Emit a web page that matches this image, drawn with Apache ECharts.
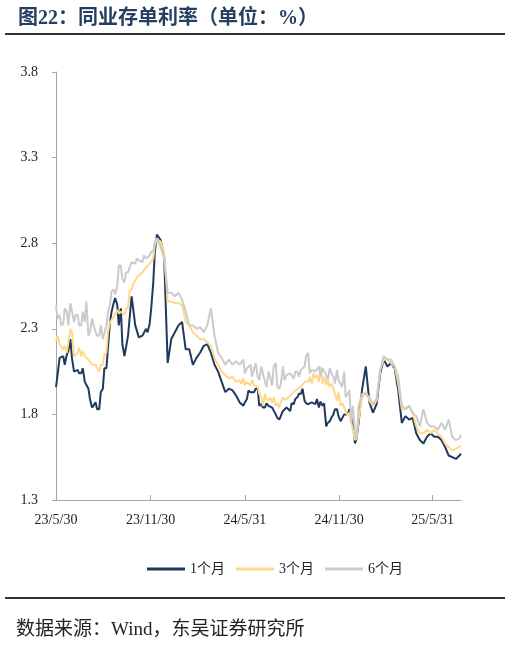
<!DOCTYPE html>
<html><head><meta charset="utf-8">
<script src="https://cdn.jsdelivr.net/npm/echarts@6/dist/echarts.min.js"></script>
<style>html,body{margin:0;padding:0;background:#fff}#c{width:510px;height:646px}</style>
</head><body><div id="c"></div>
<script>
// weekly readings (Tuesdays) plus an end point
const datesWeekly = [
'2023-05-30','2023-06-06','2023-06-13','2023-06-20','2023-06-27','2023-07-04','2023-07-11','2023-07-18','2023-07-25','2023-08-01',
'2023-08-08','2023-08-15','2023-08-22','2023-08-29','2023-09-05','2023-09-12','2023-09-19','2023-09-26','2023-10-03','2023-10-10',
'2023-10-17','2023-10-24','2023-10-31','2023-11-07','2023-11-14','2023-11-21','2023-11-28','2023-12-05','2023-12-12','2023-12-19',
'2023-12-26','2024-01-02','2024-01-09','2024-01-16','2024-01-23','2024-01-30','2024-02-06','2024-02-13','2024-02-20','2024-02-27',
'2024-03-05','2024-03-12','2024-03-19','2024-03-26','2024-04-02','2024-04-09','2024-04-16','2024-04-23','2024-04-30','2024-05-07',
'2024-05-14','2024-05-21','2024-05-28','2024-06-04','2024-06-11','2024-06-18','2024-06-25','2024-07-02','2024-07-09','2024-07-16',
'2024-07-23','2024-07-30','2024-08-06','2024-08-13','2024-08-20','2024-08-27','2024-09-03','2024-09-10','2024-09-17','2024-09-24',
'2024-10-01','2024-10-08','2024-10-15','2024-10-22','2024-10-29','2024-11-05','2024-11-12','2024-11-19','2024-11-26','2024-12-03',
'2024-12-10','2024-12-17','2024-12-24','2024-12-31','2025-01-07','2025-01-14','2025-01-21','2025-01-28','2025-02-04','2025-02-11',
'2025-02-18','2025-02-25','2025-03-04','2025-03-11','2025-03-18','2025-03-25','2025-04-01','2025-04-08','2025-04-15','2025-04-22',
'2025-04-29','2025-05-06','2025-05-13','2025-05-20','2025-05-27','2025-06-03','2025-06-10','2025-06-17','2025-06-24','2025-07-01',
'2025-07-08','2025-07-15','2025-07-22','2025-07-25'
];
const rate1M_weekly = [
1.96,2.13,2.14,2.15,2.24,2.05,2.06,2.04,1.99,1.95,
1.84,1.87,1.83,1.95,2.07,2.34,2.45,2.44,2.42,2.14,
2.26,2.49,2.32,2.25,2.26,2.30,2.33,2.57,2.85,2.82,
2.73,2.10,2.24,2.28,2.32,2.34,2.18,2.18,2.09,2.13,
2.16,2.20,2.21,2.16,2.09,2.05,1.99,1.93,1.95,1.94,
1.91,1.87,1.85,1.89,1.93,1.93,1.95,1.86,1.84,1.85,
1.84,1.80,1.77,1.82,1.84,1.82,1.86,1.90,1.92,1.88,
1.86,1.87,1.86,1.84,1.85,1.73,1.76,1.80,1.83,1.76,
1.80,1.80,1.82,1.63,1.75,1.95,2.08,1.87,1.81,1.86,
2.04,2.12,2.08,2.10,2.07,1.94,1.75,1.79,1.77,1.78,
1.69,1.65,1.63,1.67,1.69,1.67,1.67,1.65,1.61,1.56,
1.55,1.54,1.56,1.57
];
const rate3M_weekly = [
2.23,2.21,2.18,2.16,2.30,2.14,2.16,2.14,2.14,2.12,
2.09,2.09,2.05,2.09,2.16,2.34,2.37,2.41,2.40,2.38,
2.42,2.53,2.58,2.61,2.63,2.66,2.68,2.71,2.82,2.81,
2.75,2.46,2.46,2.45,2.45,2.44,2.34,2.32,2.28,2.26,
2.24,2.24,2.22,2.20,2.13,2.09,2.05,2.03,2.01,2.02,
1.99,2.00,2.01,1.99,1.97,1.97,1.96,1.90,1.92,1.88,
1.87,1.85,1.84,1.90,1.89,1.91,1.93,1.95,1.96,1.99,
1.99,1.98,2.01,1.99,1.98,1.97,1.96,1.95,1.88,1.85,
1.84,1.79,1.75,1.65,1.77,1.90,1.93,1.88,1.85,1.88,
2.06,2.12,2.12,2.10,2.08,1.98,1.83,1.83,1.85,1.81,
1.73,1.69,1.69,1.71,1.69,1.71,1.69,1.67,1.63,1.61,
1.59,1.60,1.61,1.62
];
const rate6M_weekly = [
2.44,2.38,2.33,2.40,2.45,2.34,2.38,2.32,2.34,2.26,
2.36,2.28,2.26,2.24,2.32,2.44,2.53,2.55,2.67,2.57,
2.63,2.69,2.68,2.70,2.69,2.71,2.73,2.75,2.83,2.78,
2.71,2.51,2.51,2.49,2.51,2.47,2.40,2.32,2.32,2.30,
2.31,2.28,2.32,2.42,2.26,2.16,2.13,2.09,2.12,2.09,
2.11,2.09,2.12,2.07,2.09,2.07,2.02,2.08,1.99,2.05,
1.97,2.10,1.95,2.08,2.03,2.04,2.01,2.05,2.06,2.08,
2.16,2.06,2.05,2.08,2.07,2.03,2.07,2.02,2.06,1.98,
2.05,1.92,1.75,1.69,1.85,1.92,1.92,1.90,1.86,1.89,
2.06,2.14,2.12,2.12,2.08,2.02,1.85,1.83,1.85,1.81,
1.79,1.73,1.83,1.75,1.73,1.73,1.71,1.75,1.71,1.77,
1.67,1.65,1.66,1.68
];
// extra mid-week readings (Fridays) where the lines are most jagged
const datesMid = [
'2023-06-02','2023-06-09','2023-06-16','2023-06-23','2023-06-30','2023-07-07','2023-07-14','2023-07-21','2023-07-28','2023-08-04',
'2023-08-11','2023-08-18','2023-08-25','2023-09-01','2023-09-08','2023-09-15','2023-09-22','2023-09-29','2023-10-06','2023-10-13',
'2023-10-20','2023-10-27','2023-11-03','2023-11-10','2023-11-17','2023-11-24','2023-12-01','2023-12-08',
'2024-05-24','2024-05-31','2024-06-07','2024-06-14','2024-06-21','2024-06-28','2024-07-05','2024-07-12','2024-07-19','2024-07-26',
'2024-08-02','2024-08-09','2024-08-16','2024-08-23','2024-08-30','2024-09-06','2024-09-13','2024-09-20','2024-09-27','2024-10-04',
'2024-10-11','2024-10-18','2024-10-25','2024-11-01','2024-11-08','2024-11-15','2024-11-22','2024-11-29','2024-12-06','2024-12-13',
'2024-12-20','2024-12-27','2025-01-03'
];
const rate1M_mid = [
2.03,2.13,2.09,2.17,2.13,2.05,2.04,2.07,1.99,1.89,
1.85,1.83,1.93,2.07,2.19,2.40,2.48,2.32,2.21,2.19,
2.26,2.48,2.32,2.26,2.25,2.28,2.42,2.75,
1.88,1.87,1.94,1.94,1.95,1.85,1.84,1.865,1.85,1.84,
1.78,1.77,1.81,1.85,1.865,1.89,1.92,1.95,1.865,1.865,
1.875,1.89,1.875,1.865,1.75,1.78,1.83,1.79,1.77,1.80,
1.83,1.81,1.66
];
const rate3M_mid = [
2.26,2.22,2.20,2.17,2.28,2.13,2.19,2.17,2.14,2.13,
2.09,2.07,2.09,2.15,2.28,2.35,2.38,2.39,2.41,2.42,
2.52,2.56,2.60,2.61,2.63,2.67,2.69,2.79,
1.98,1.97,1.98,2.00,1.96,1.92,1.85,1.89,1.90,1.90,
1.865,1.875,1.885,1.90,1.91,1.93,1.95,1.97,1.99,2.02,
2.04,2.03,2.08,2.02,2.00,1.98,1.94,1.93,1.865,1.845,
1.81,1.75,1.67
];
const rate6M_mid = [
2.36,2.32,2.42,2.32,2.44,2.38,2.32,2.40,2.46,2.28,
2.32,2.26,2.32,2.24,2.40,2.52,2.50,2.67,2.59,2.63,
2.63,2.69,2.71,2.69,2.73,2.71,2.75,2.81,
2.10,2.04,2.08,2.02,2.10,2.00,2.04,1.96,2.02,2.08,
1.96,1.98,2.00,2.04,2.04,2.05,2.02,2.06,2.14,2.04,
2.06,2.04,2.02,2.06,2.00,2.04,1.98,2.00,1.96,1.90,
1.94,1.85,1.65
];
const seriesNames = ['1个月','3个月','6个月'];
const seriesColors = ['#1F3A5F','#FFD88A','#CBCBCB'];
const tickDates = ['2023-05-30','2023-11-30','2024-05-31','2024-11-30','2025-05-31'];
const tickLabels = ['23/5/30','23/11/30','24/5/31','24/11/30','25/5/31'];
const yTicks = [1.3,1.8,2.3,2.8,3.3,3.8];
const xMin = '2023-05-30', xMax = '2025-07-25';

// merge weekly + mid-week readings into one date-sorted table
const table = [];
datesWeekly.forEach((d, i) => table.push([d, rate1M_weekly[i], rate3M_weekly[i], rate6M_weekly[i]]));
datesMid.forEach((d, i) => table.push([d, rate1M_mid[i], rate3M_mid[i], rate6M_mid[i]]));
table.sort((a, b) => a[0] < b[0] ? -1 : a[0] > b[0] ? 1 : 0);

// dates -> day offset from the axis start (x is a linear day scale)
function dayOf(s){ const p = s.split('-'); return Math.round(Date.UTC(+p[0], +p[1]-1, +p[2]) / 86400000); }
const day0 = dayOf(xMin);
const xOf = s => dayOf(s) - day0;
const tickX = tickDates.map(xOf);
const serif = "'Liberation Serif','Noto Sans CJK SC',serif";
const chart = echarts.init(document.getElementById('c'));

chart.setOption({
  animation: false,
  backgroundColor: '#fff',
  title: {
    text: '图22：同业存单利率（单位：%）',
    left: 13, top: 4,
    textStyle: { fontFamily: serif, fontSize: 20, fontWeight: 'bold', color: '#243F60' }
  },
  graphic: [
    { type: 'line', shape: { x1: 5, y1: 34, x2: 505, y2: 34 }, style: { stroke: '#333', lineWidth: 2 } },
    { type: 'line', shape: { x1: 5, y1: 598, x2: 505, y2: 598 }, style: { stroke: '#333', lineWidth: 2 } },
    { type: 'text', left: 16, top: 621, style: { text: '数据来源：Wind，东吴证券研究所', font: '19px ' + serif, fill: '#222' } }
  ],
  legend: {
    left: 142, top: 557,
    itemWidth: 38, itemHeight: 3, itemGap: 11,
    icon: 'rect',
    textStyle: { fontFamily: serif, fontSize: 14, color: '#222' },
    data: seriesNames
  },
  grid: { left: 56, right: 49, top: 72, bottom: 146 },
  xAxis: {
    type: 'value',
    min: 0, max: xOf(xMax),
    splitLine: { show: false },
    axisLine: { lineStyle: { color: '#A6A6A6', width: 1 } },
    axisTick: { show: true, inside: true, length: 5, lineStyle: { color: '#A6A6A6' }, customValues: tickX },
    axisLabel: {
      customValues: tickX,
      margin: 13,
      fontFamily: serif, fontSize: 14, color: '#222',
      formatter: function (v) {
        const i = tickX.indexOf(Math.round(v));
        return i >= 0 ? tickLabels[i] : '';
      }
    }
  },
  yAxis: {
    type: 'value',
    min: 1.3, max: 3.8,
    splitLine: { show: false },
    axisLine: { show: true, lineStyle: { color: '#A6A6A6', width: 1 } },
    axisTick: { show: true, length: 4, lineStyle: { color: '#A6A6A6' }, customValues: yTicks },
    axisLabel: { customValues: yTicks, margin: 18, fontFamily: serif, fontSize: 14, color: '#222',
      formatter: v => (+v).toFixed(1) }
  },
  series: seriesNames.map((n, si) => ({
    name: n, type: 'line', symbol: 'none', showSymbol: false,
    lineStyle: { width: 2, color: seriesColors[si] },
    itemStyle: { color: seriesColors[si] },
    data: table.map(r => [xOf(r[0]), r[si + 1]])
  }))
});
</script></body></html>
